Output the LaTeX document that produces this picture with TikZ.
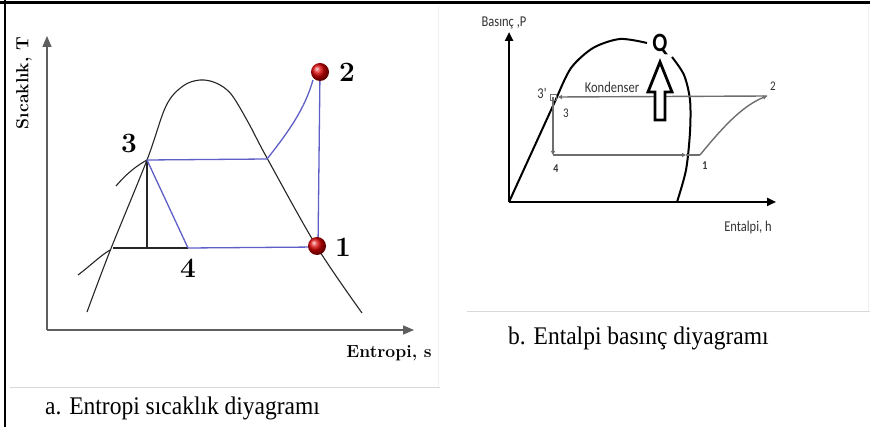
\documentclass[tikz,border=0pt]{standalone}
\usepackage{fontspec}
\setmainfont{Liberation Serif}
\newfontfamily\carl{Carlito}
\usetikzlibrary{arrows.meta,shadings}
\definecolor{cycblue}{RGB}{95,95,200}
\definecolor{axgray}{RGB}{95,95,95}
\definecolor{cyc}{RGB}{110,110,110}
\tikzset{
  lmbold/.style={font=\fontspec{Latin Modern Roman}\bfseries\fontsize{28}{30}\selectfont, inner sep=0pt},
  lmlab/.style={font=\fontspec{Latin Modern Roman}\bfseries\fontsize{17.5}{19}\selectfont, inner sep=0pt},
  caption/.style={font=\fontsize{23.5}{26}\selectfont, inner sep=0pt, anchor=west, yscale=1.08, transform shape},
  sanslab/.style={font=\carl\fontsize{12.5}{14}\selectfont, inner sep=0pt, text=black!80, yscale=1.2, transform shape},
  digit/.style={font=\carl\fontsize{11}{12}\selectfont, inner sep=0pt, text=black!80, yscale=1.2, transform shape},
  axisA/.style={draw=axgray, line width=1.3pt, -{Triangle[length=11pt,width=9pt]}},
  axisB/.style={draw=black, line width=2.4pt, -{Triangle[length=9pt,width=8pt]}},
  dome/.style={draw=black!85, line width=1.1pt},
  domeB/.style={draw=black, line width=2pt},
  blueline/.style={draw=cycblue, line width=1.3pt},
  cycline/.style={draw=cyc, line width=1.4pt},
  tinytip/.style={-{Triangle[length=4pt,width=4pt]}},
  ball/.style={circle, minimum size=18pt, inner sep=0pt, ball color=red!85!black},
}
\begin{document}
\begin{tikzpicture}[x=1pt,y=-1pt]
\useasboundingbox (0,0) rectangle (870,427);
\fill[white] (0,0) rectangle (870,427);
% frame
\draw[gray!12, line width=1pt] (438,6) -- (438,388);
\draw[gray!12, line width=1pt] (868,6) -- (868,312);
\draw[gray!30, line width=1pt] (10,388) -- (440,388);
\draw[gray!30, line width=1pt] (467,312) -- (870,312);
\draw[black, line width=3pt] (0,3) -- (870,3);
\draw[black, line width=2.5pt] (5,0) -- (5,427);

% ---------- left: T-s diagram ----------
\coordinate (oA) at (47,330);
\coordinate (yA) at (47,36);
\coordinate (xA) at (414,330);
\draw[axisA] (oA) -- (yA);
\draw[axisA] (oA) -- (xA);
\node[lmlab, rotate=90] (Tlab) at (24,83) {Sıcaklık, T};
\node[lmlab] (slab) at (389,353) {Entropi, s};

\draw[dome] plot[smooth, tension=0.55] coordinates {(87,312) (110,251) (147,160) (166,106) (183,86) (200,80) (216,83) (231,94) (248,122) (267,158) (317,247) (362,313)};
\draw[dome] (116,186) .. controls (128,172) and (138,165) .. (147,160);
\draw[dome] (78,275) .. controls (90,266) and (100,256) .. (110,250);

\coordinate (p3) at (147,160);
\coordinate (p3b) at (147,248);
\coordinate (pL) at (113,248);
\coordinate (p4) at (188,248);
\coordinate (pg) at (267,159);
\coordinate (p1) at (318,247);
\coordinate (p2) at (320,72);
\draw[dome] (p3) -- (p3b);
\draw[dome] (pL) -- (p4);
\draw[blueline] (p3) -- (pg);
\draw[blueline] (p3) -- (p4);
\draw[blueline] (p4) -- (p1);
\draw[blueline] (p1) -- (p2);
\draw[blueline] (pg) .. controls (290,130) and (305,108) .. (313,80);
\node[ball] (b2) at (p2) {};
\node[ball] (b1) at (317,246) {};
\node[lmbold] (l2) at (347,72) {2};
\node[lmbold] (l1) at (343,247) {1};
\node[lmbold] (l3) at (129,143) {3};
\node[lmbold] (l4) at (188,268) {4};
\node[caption] (capA) at (45,408) {a. Entropi sıcaklık diyagramı};

% ---------- right: P-h diagram ----------
\coordinate (oB) at (509,202);
\coordinate (yB) at (509,32);
\coordinate (xB) at (776,202);
\draw[axisB] (oB) -- (yB);
\draw[axisB] (oB) -- (xB);
\node[sanslab] (Plab) at (504,23) {Basınç ,P};
\node[sanslab] (hlab) at (748,228) {Entalpi, h};

\draw[domeB] (oB) -- (557,97);
\draw[domeB] plot[smooth] coordinates {(557,97) (571,68) (593,48) (620,39) (647,43)};
\draw[domeB] plot[smooth] coordinates {(672,57) (684,75) (690,100) (690,132) (686,170) (677,202)};

\coordinate (c3) at (553,97);
\coordinate (c4) at (553,155);
\coordinate (c1) at (700,155);
\coordinate (c2) at (767,96);
\coordinate (c1a) at (686,155);
\draw[cycline, tinytip] (c2) -- (558,97);
\draw[cycline, tinytip] (c3) -- (c4);
\draw[cycline, tinytip] (c4) -- (c1a);
\draw[cycline] (c1a) -- (c1);
\draw[cycline, tinytip] (c1) .. controls (722,128) and (742,106) .. (c2);
\draw[cyc, line width=0.9pt] (550,94) rectangle (556,100);

\draw[black, line width=2.8pt, fill=white, line join=miter]
  (660,62) -- (672,92) -- (665,92) -- (665,120) -- (655,120) -- (655,92) -- (648,92) -- cycle;
\node[font=\carl\bfseries\fontsize{22}{24}\selectfont, inner sep=0pt, yscale=1.2, transform shape] (Q) at (660,45) {Q};
\node[sanslab] (kond) at (612,87) {Kondenser};
\node[sanslab] (l3p) at (542,93) {3'};
\node[digit] (r3) at (566,113) {3};
\node[digit] (r2) at (773,86) {2};
\node[digit, font=\carl\bfseries\fontsize{10}{12}\selectfont] (r4) at (556,169) {4};
\node[digit, font=\carl\bfseries\fontsize{10}{12}\selectfont] (r1) at (705,166) {1};
\node[caption] (capB) at (508,338) {b. Entalpi basınç diyagramı};
\end{tikzpicture}
\end{document}
